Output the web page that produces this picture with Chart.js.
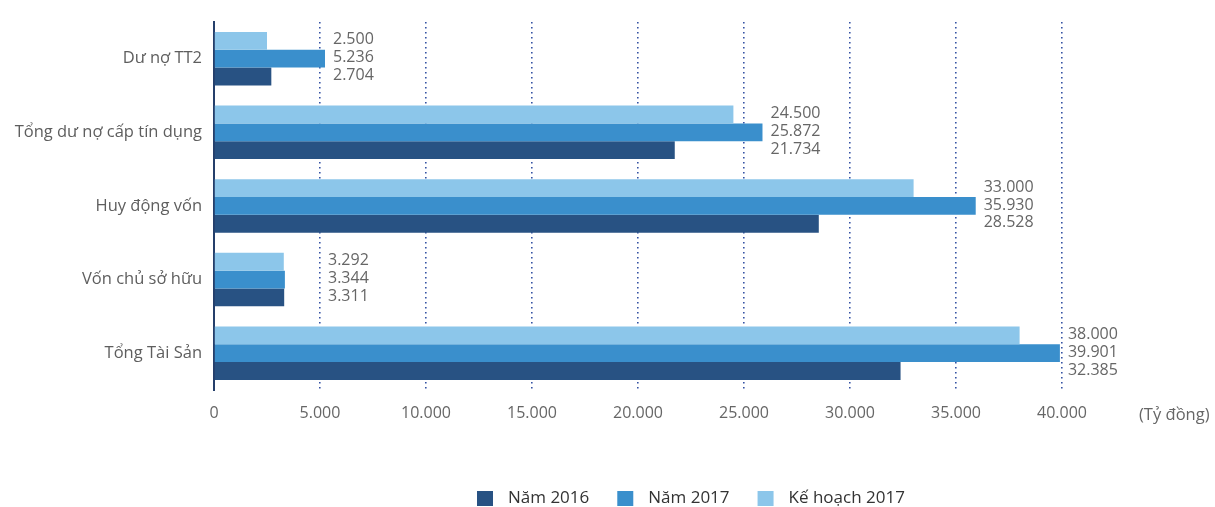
<!DOCTYPE html>
<html>
<head>
<meta charset="utf-8">
<script src="https://cdn.jsdelivr.net/npm/chart.js@4/dist/chart.umd.min.js"></script>
<style>
  html, body { margin: 0; padding: 0; background: #fff; }
  #wrap { width: 1215px; height: 507px; position: relative; }
</style>
</head>
<body>
<div id="wrap"><canvas id="barChart"></canvas></div>
<script>
'use strict';

var categories = ['Dư nợ TT2', 'Tổng dư nợ cấp tín dụng', 'Huy động vốn', 'Vốn chủ sở hữu', 'Tổng Tài Sản'];
var plan2017 = [2500, 24500, 33000, 3292, 38000];
var year2017 = [5236, 25872, 35930, 3344, 39901];
var year2016 = [2704, 21734, 28528, 3311, 32385];
var xTicks = [0, 5000, 10000, 15000, 20000, 25000, 30000, 35000, 40000];
var unitLabel = '(Tỷ đồng)';

var FONT = '"Open Sans", "Noto Sans", sans-serif';

function fmt(v) {
    return String(v).replace(/\B(?=(\d{3})+(?!\d))/g, '.');
}

// value labels to the right of each group
var valueLabels = {
    id: 'valueLabels',
    afterDatasetsDraw: function (chart) {
        var ctx = chart.ctx;
        var xScale = chart.scales.x;
        ctx.save();
        ctx.font = '16px ' + FONT;
        ctx.fillStyle = '#666666';
        ctx.textAlign = 'left';
        ctx.textBaseline = 'middle';
        categories.forEach(function (c, i) {
            var groupMax = 0;
            chart.data.datasets.forEach(function (ds) {
                groupMax = Math.max(groupMax, ds.data[i]);
            });
            var x = xScale.getPixelForValue(Math.max(groupMax, 5000)) + 8;
            chart.data.datasets.forEach(function (ds, d) {
                var bar = chart.getDatasetMeta(d).data[i];
                ctx.fillText(fmt(ds.data[i]), x, bar.y - 1);
            });
        });
        // unit label next to the tick row
        ctx.font = '16.5px ' + FONT;
        ctx.fillText(unitLabel, 1139, chart.chartArea.bottom + 25);
        ctx.restore();
    }
};

// legend drawn at the bottom, in reverse dataset order
var bottomLegend = {
    id: 'bottomLegend',
    afterDraw: function (chart) {
        var ctx = chart.ctx;
        var x = 477, y = 498;
        ctx.save();
        ctx.font = '17px ' + FONT;
        ctx.textBaseline = 'middle';
        ctx.textAlign = 'left';
        var items = chart.data.datasets.slice().reverse();
        items.forEach(function (ds) {
            ctx.fillStyle = ds.backgroundColor;
            ctx.fillRect(x, y - 7, 16, 15);
            ctx.fillStyle = '#333333';
            ctx.fillText(ds.label, x + 31, y);
            x += 31 + ctx.measureText(ds.label).width + 28;
        });
        ctx.restore();
    }
};

var barChartCanvas = document.getElementById('barChart').getContext('2d');

new Chart(barChartCanvas, {
    type: 'bar',
    data: {
        labels: categories,
        datasets: [
            { label: 'Kế hoạch 2017', data: plan2017, backgroundColor: '#8cc6ea' },
            { label: 'Năm 2017', data: year2017, backgroundColor: '#3a8fcc' },
            { label: 'Năm 2016', data: year2016, backgroundColor: '#285283' }
        ]
    },
    options: {
        indexAxis: 'y',
        responsive: true,
        maintainAspectRatio: false,
        animation: false,
        layout: { padding: { top: 18, right: 153, left: 0, bottom: 0 } },
        categoryPercentage: 0.726,
        barPercentage: 1,
        plugins: {
            legend: { display: false },
            tooltip: { enabled: false }
        },
        scales: {
            x: {
                min: 0,
                max: 40000,
                afterBuildTicks: function (scale) {
                    scale.ticks = xTicks.map(function (v) { return { value: v }; });
                },
                afterFit: function (scale) { scale.height = 117; },
                grid: {
                    drawTicks: false,
                    lineWidth: 1.6,
                    color: function (c) {
                        return c.tick && c.tick.value === 0 ? 'rgba(0,0,0,0)' : '#3552a3';
                    }
                },
                border: { display: false, dash: [1.5, 3.5] },
                ticks: {
                    padding: 14,
                    color: '#666666',
                    font: { family: FONT, size: 16 },
                    callback: function (v) { return fmt(v); }
                }
            },
            y: {
                afterFit: function (scale) { scale.width = 214; },
                grid: { display: false, drawTicks: false },
                border: { display: true, color: '#253f6b', width: 2 },
                ticks: {
                    padding: 12,
                    color: '#5e5e5e',
                    font: { family: FONT, size: 16.5 }
                }
            }
        }
    },
    plugins: [valueLabels, bottomLegend]
});
</script>
</body>
</html>
